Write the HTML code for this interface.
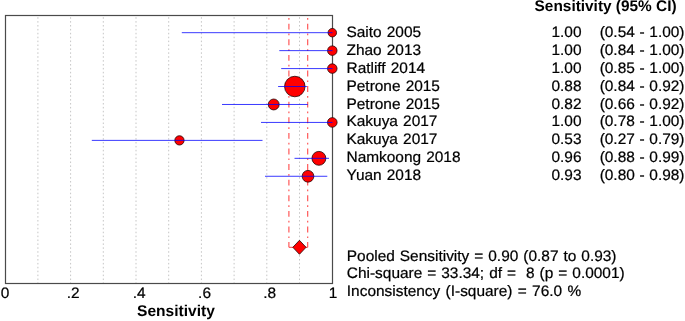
<!DOCTYPE html>
<html><head><meta charset="utf-8"><title>Forest plot</title>
<style>
html,body{margin:0;padding:0;background:#fff;}
svg{display:block;}
text{font-family:"Liberation Sans",sans-serif;font-size:15.1px;fill:#000;stroke:#000;stroke-width:0.22px;white-space:pre;text-rendering:geometricPrecision;word-spacing:0.8px;}
.b{font-weight:bold;font-size:15.4px;stroke:none;word-spacing:0;}
</style></head><body>
<svg width="685" height="321" viewBox="0 0 685 321">
<rect x="0" y="0" width="685" height="321" fill="#fff"/>

<line x1="37.90" y1="17.2" x2="37.90" y2="283" stroke="#c6c6c6" stroke-width="1" stroke-dasharray="1.55 2.35"/>
<line x1="70.60" y1="17.2" x2="70.60" y2="283" stroke="#c6c6c6" stroke-width="1" stroke-dasharray="1.55 2.35"/>
<line x1="103.30" y1="17.2" x2="103.30" y2="283" stroke="#c6c6c6" stroke-width="1" stroke-dasharray="1.55 2.35"/>
<line x1="136.00" y1="17.2" x2="136.00" y2="283" stroke="#c6c6c6" stroke-width="1" stroke-dasharray="1.55 2.35"/>
<line x1="168.70" y1="17.2" x2="168.70" y2="283" stroke="#c6c6c6" stroke-width="1" stroke-dasharray="1.55 2.35"/>
<line x1="201.40" y1="17.2" x2="201.40" y2="283" stroke="#c6c6c6" stroke-width="1" stroke-dasharray="1.55 2.35"/>
<line x1="234.10" y1="17.2" x2="234.10" y2="283" stroke="#c6c6c6" stroke-width="1" stroke-dasharray="1.55 2.35"/>
<line x1="266.80" y1="17.2" x2="266.80" y2="283" stroke="#c6c6c6" stroke-width="1" stroke-dasharray="1.55 2.35"/>
<line x1="299.50" y1="17.2" x2="299.50" y2="283" stroke="#c6c6c6" stroke-width="1" stroke-dasharray="1.55 2.35"/>
<rect x="5.5" y="15.5" width="327" height="268" fill="none" stroke="#4a4a4a" stroke-width="1.2"/>
<line x1="288.9" y1="18" x2="288.9" y2="247.3" stroke="#ff4a4a" stroke-width="1.1" stroke-dasharray="1.7 4 5.9 4"/>
<line x1="307.7" y1="18" x2="307.7" y2="247.3" stroke="#ff4a4a" stroke-width="1.1" stroke-dasharray="1.7 4 5.9 4"/>
<line x1="288.9" y1="247.3" x2="307.7" y2="247.3" stroke="#ff4040" stroke-width="1"/>
<circle cx="332.30" cy="32.68" r="4.25" fill="#ff0000" stroke="#240404" stroke-width="0.8"/>
<line x1="181.8" y1="32.68" x2="332.5" y2="32.68" stroke="#0000ff" stroke-width="0.78"/>
<circle cx="332.30" cy="50.63" r="4.75" fill="#ff0000" stroke="#240404" stroke-width="0.8"/>
<line x1="279.3" y1="50.63" x2="332.5" y2="50.63" stroke="#0000ff" stroke-width="0.78"/>
<circle cx="332.30" cy="68.58" r="4.75" fill="#ff0000" stroke="#240404" stroke-width="0.8"/>
<line x1="281.2" y1="68.58" x2="332.5" y2="68.58" stroke="#0000ff" stroke-width="0.78"/>
<circle cx="294.80" cy="86.53" r="10.25" fill="#ff0000" stroke="#240404" stroke-width="0.8"/>
<line x1="278.1" y1="86.53" x2="306.9" y2="86.53" stroke="#0000ff" stroke-width="0.78"/>
<circle cx="273.70" cy="104.48" r="5.45" fill="#ff0000" stroke="#240404" stroke-width="0.8"/>
<line x1="222.0" y1="104.48" x2="307.8" y2="104.48" stroke="#0000ff" stroke-width="0.78"/>
<circle cx="332.30" cy="122.43" r="4.80" fill="#ff0000" stroke="#240404" stroke-width="0.8"/>
<line x1="261.0" y1="122.43" x2="332.5" y2="122.43" stroke="#0000ff" stroke-width="0.78"/>
<circle cx="179.45" cy="140.38" r="4.65" fill="#ff0000" stroke="#240404" stroke-width="0.8"/>
<line x1="91.8" y1="140.38" x2="262.5" y2="140.38" stroke="#0000ff" stroke-width="0.78"/>
<circle cx="318.90" cy="158.33" r="6.95" fill="#ff0000" stroke="#240404" stroke-width="0.8"/>
<line x1="294.5" y1="158.33" x2="329.0" y2="158.33" stroke="#0000ff" stroke-width="0.78"/>
<circle cx="308.00" cy="176.28" r="5.85" fill="#ff0000" stroke="#240404" stroke-width="0.8"/>
<line x1="265.0" y1="176.28" x2="327.3" y2="176.28" stroke="#0000ff" stroke-width="0.78"/>
<polygon points="292.85,247.3 299.45,240.3 306.05,247.3 299.45,254.3" fill="#ff0000" stroke="#240404" stroke-width="0.8"/>
<text class="b" x="534.60" y="11.40">Sensitivity (95% CI)</text>
<text transform="translate(346.50 36.70) scale(1.0220 1)">Saito 2005</text>
<text transform="translate(581.50 36.70) scale(1.0220 1)" text-anchor="end">1.00</text>
<text style="word-spacing:0.4px" transform="translate(684.50 36.70) scale(1.0220 1)" text-anchor="end">(0.54 - 1.00)</text>
<text transform="translate(346.50 54.65) scale(1.0220 1)">Zhao 2013</text>
<text transform="translate(581.50 54.65) scale(1.0220 1)" text-anchor="end">1.00</text>
<text style="word-spacing:0.4px" transform="translate(684.50 54.65) scale(1.0220 1)" text-anchor="end">(0.84 - 1.00)</text>
<text transform="translate(346.50 72.60) scale(1.0220 1)">Ratliff 2014</text>
<text transform="translate(581.50 72.60) scale(1.0220 1)" text-anchor="end">1.00</text>
<text style="word-spacing:0.4px" transform="translate(684.50 72.60) scale(1.0220 1)" text-anchor="end">(0.85 - 1.00)</text>
<text transform="translate(346.50 90.55) scale(1.0220 1)">Petrone 2015</text>
<text transform="translate(581.50 90.55) scale(1.0220 1)" text-anchor="end">0.88</text>
<text style="word-spacing:0.4px" transform="translate(684.50 90.55) scale(1.0220 1)" text-anchor="end">(0.84 - 0.92)</text>
<text transform="translate(346.50 108.50) scale(1.0220 1)">Petrone 2015</text>
<text transform="translate(581.50 108.50) scale(1.0220 1)" text-anchor="end">0.82</text>
<text style="word-spacing:0.4px" transform="translate(684.50 108.50) scale(1.0220 1)" text-anchor="end">(0.66 - 0.92)</text>
<text transform="translate(346.50 126.45) scale(1.0220 1)">Kakuya 2017</text>
<text transform="translate(581.50 126.45) scale(1.0220 1)" text-anchor="end">1.00</text>
<text style="word-spacing:0.4px" transform="translate(684.50 126.45) scale(1.0220 1)" text-anchor="end">(0.78 - 1.00)</text>
<text transform="translate(346.50 144.40) scale(1.0220 1)">Kakuya 2017</text>
<text transform="translate(581.50 144.40) scale(1.0220 1)" text-anchor="end">0.53</text>
<text style="word-spacing:0.4px" transform="translate(684.50 144.40) scale(1.0220 1)" text-anchor="end">(0.27 - 0.79)</text>
<text transform="translate(346.50 162.35) scale(1.0220 1)">Namkoong 2018</text>
<text transform="translate(581.50 162.35) scale(1.0220 1)" text-anchor="end">0.96</text>
<text style="word-spacing:0.4px" transform="translate(684.50 162.35) scale(1.0220 1)" text-anchor="end">(0.88 - 0.99)</text>
<text transform="translate(346.50 180.30) scale(1.0220 1)">Yuan 2018</text>
<text transform="translate(581.50 180.30) scale(1.0220 1)" text-anchor="end">0.93</text>
<text style="word-spacing:0.4px" transform="translate(684.50 180.30) scale(1.0220 1)" text-anchor="end">(0.80 - 0.98)</text>
<text style="word-spacing:0.7px" transform="translate(346.80 261.30) scale(1.0220 1)">Pooled Sensitivity = 0.90 (0.87 to 0.93)</text>
<text style="word-spacing:0.7px" transform="translate(346.80 278.40) scale(1.0220 1)">Chi-square = 33.34; df =  8 (p = 0.0001)</text>
<text style="word-spacing:1.0px" transform="translate(346.80 296.00) scale(1.0220 1)">Inconsistency (I-square) = 76.0 %</text>
<text transform="translate(0.80 298.10) scale(1.0220 1)">0</text>
<text transform="translate(66.80 298.10) scale(1.0220 1)">.2</text>
<text transform="translate(132.80 298.10) scale(1.0220 1)">.4</text>
<text transform="translate(198.10 298.10) scale(1.0220 1)">.6</text>
<text transform="translate(263.20 298.10) scale(1.0220 1)">.8</text>
<text transform="translate(328.70 298.10) scale(1.0220 1)">1</text>
<text class="b" x="137.1" y="315.5" style="font-size:15.55px">Sensitivity</text>
</svg>
</body></html>
